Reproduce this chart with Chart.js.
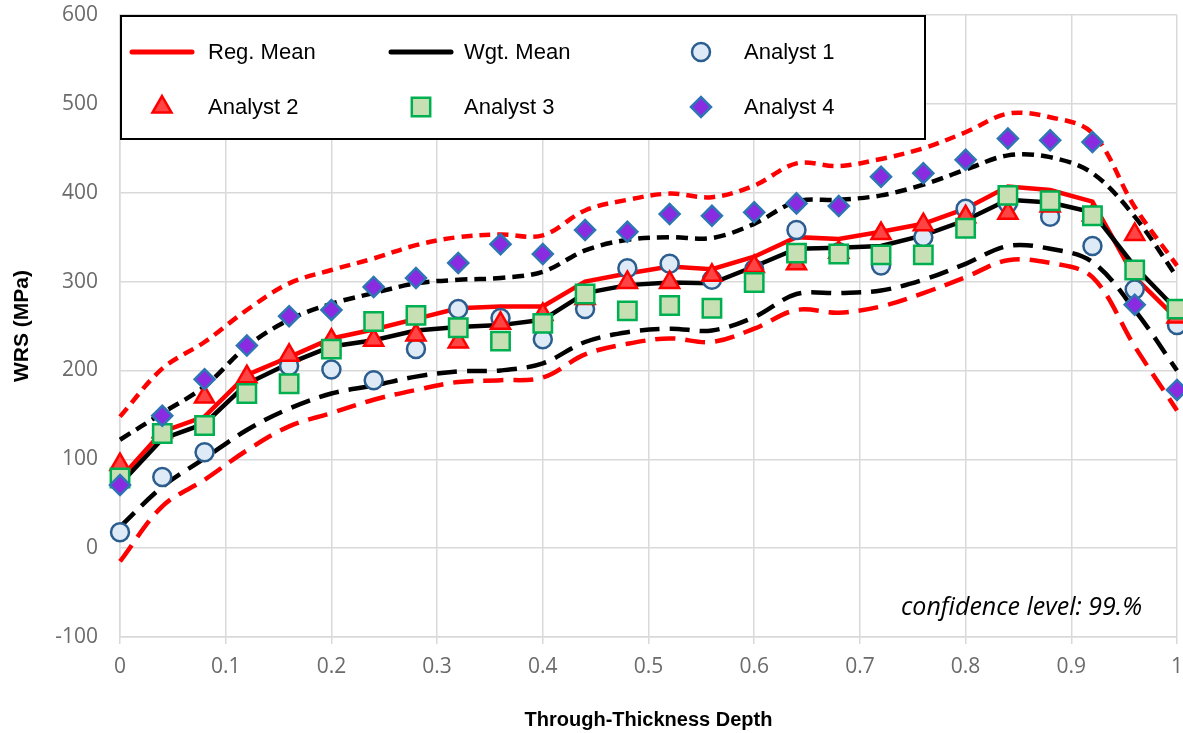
<!DOCTYPE html>
<html>
<head>
<meta charset="utf-8">
<title>WRS vs through-thickness depth</title>
<script src="https://cdn.jsdelivr.net/npm/chart.js@4.4.1/dist/chart.umd.min.js"></script>
<style>
  html, body { margin: 0; padding: 0; background: #fff; }
</style>
</head>
<body>
<canvas id="wrsChart" width="1183" height="733"></canvas>
<script>
// normalised depth positions
const depth = [0, 0.04, 0.08, 0.12, 0.16, 0.2, 0.24, 0.28, 0.32, 0.36, 0.4, 0.44, 0.48,
  0.52, 0.56, 0.6, 0.64, 0.68, 0.72, 0.76, 0.8, 0.84, 0.88, 0.92, 0.96, 1];

const xTicks = [0, 0.1, 0.2, 0.3, 0.4, 0.5, 0.6, 0.7, 0.8, 0.9, 1];
const yTicks = [-100, 0, 100, 200, 300, 400, 500, 600];

// means
const regMean = [78, 131, 148, 195, 215, 236, 246, 258, 270, 272, 272, 300, 309,
  317, 314, 328, 350, 348, 356, 365, 382, 407, 403, 390, 305, 258];
const wgtMean = [72, 123, 140, 185, 208, 227, 234, 245, 249, 251, 257, 287, 296,
  299, 298, 317, 337, 338, 340, 352, 369, 392, 389, 378, 317, 268];

// confidence bands (99%)
const regUpper = [148, 202, 232, 268, 298, 313, 326, 341, 350, 353, 352, 380, 392,
  399, 395, 408, 433, 430, 438, 450, 468, 489, 485, 467, 384, 318];
const regLower = [-15, 47, 77, 110, 137, 152, 167, 178, 187, 189, 192, 218, 230,
  236, 232, 247, 268, 265, 272, 287, 305, 324, 321, 305, 227, 155];
const wgtUpper = [122, 152, 182, 227, 257, 275, 287, 298, 302, 304, 311, 335, 347,
  350, 349, 365, 390, 392, 397, 409, 426, 442, 440, 422, 373, 305];
const wgtLower = [24, 69, 101, 133, 157, 174, 183, 193, 199, 200, 208, 232, 243,
  247, 245, 260, 286, 287, 290, 302, 320, 340, 337, 322, 268, 200];

// individual analysts
const analyst1 = [18, 80, 108, 178, 205, 201, 189, 224, 269, 259, 235, 269, 315,
  320, 302, 314, 358, 333, 318, 350, 382, 388, 373, 340, 291, 251];
const analyst2 = [94, 131, 170, 193, 217, 234, 234, 240, 232, 253, 263, 281, 299,
  299, 307, 317, 320, 333, 354, 364, 373, 377, 385, 375, 353, 260];
const analyst3 = [79, 129, 138, 174, 185, 224, 255, 262, 248, 233, 253, 286, 267,
  273, 270, 299, 332, 331, 330, 330, 360, 397, 391, 374, 313, 269];
const analyst4 = [71, 149, 190, 228, 261, 268, 294, 304, 321, 342, 331, 358, 356,
  376, 374, 378, 388, 385, 418, 422, 437, 461, 459, 457, 274, 178];

function pts(vals) {
  return vals.map((v, i) => ({ x: depth[i], y: v }));
}

function lineSet(label, vals, color, dash, smooth, order) {
  return {
    label: label,
    data: pts(vals),
    borderColor: color,
    backgroundColor: color,
    borderWidth: 4.5,
    borderDash: dash,
    tension: smooth ? 0.35 : 0,
    pointRadius: 0,
    fill: false,
    clip: false,
    order: order,
    inLegend: !dash.length
  };
}

function markerSet(label, vals, style, radius, fill, edge, order) {
  return {
    label: label,
    data: pts(vals),
    showLine: false,
    pointStyle: style,
    pointRadius: radius,
    pointBackgroundColor: fill,
    pointBorderColor: edge,
    pointBorderWidth: 2.5,
    backgroundColor: fill,
    borderColor: edge,
    clip: false,
    order: order,
    inLegend: true
  };
}

const datasets = [
  lineSet("Reg. Mean", regMean, "#ff0000", [], false, 6),
  lineSet("Wgt. Mean", wgtMean, "#000000", [], false, 5),
  markerSet("Analyst 1", analyst1, "circle", 9, "#deebf7", "#2b5d8e", 4),
  markerSet("Analyst 2", analyst2, "triangle", 11, "#ff4444", "#ff0000", 3),
  markerSet("Analyst 3", analyst3, "rect", 13, "#c6e0b4", "#00b050", 2),
  markerSet("Analyst 4", analyst4, "rectRot", 10, "#8a2be2", "#2e75b6", 1),
  lineSet("Reg. upper", regUpper, "#ff0000", [11, 7], true, 8),
  lineSet("Reg. lower", regLower, "#ff0000", [20, 10], true, 8),
  lineSet("Wgt. upper", wgtUpper, "#000000", [12, 7], true, 7),
  lineSet("Wgt. lower", wgtLower, "#000000", [20, 10], true, 7)
];

// boxed legend inside the plot, 3 columns x 2 rows
const boxLegend = {
  id: "boxLegend",
  afterDraw(chart) {
    const ctx = chart.ctx;
    const items = chart.data.datasets.filter(d => d.inLegend);
    const colCenter = [162, 421, 701];
    const colText = [208, 464, 744];
    const rowY = [52, 107];
    ctx.save();
    ctx.fillStyle = "#fff";
    ctx.fillRect(121, 16, 804, 123);
    ctx.lineWidth = 2;
    ctx.strokeStyle = "#000";
    ctx.strokeRect(121, 16, 804, 123);
    items.forEach((d, i) => {
      const cx = colCenter[i % 3];
      const cy = rowY[Math.floor(i / 3)];
      if (d.showLine === false) {
        ctx.fillStyle = d.pointBackgroundColor;
        ctx.strokeStyle = d.pointBorderColor;
        ctx.lineWidth = d.pointBorderWidth;
        ctx.setLineDash([]);
        Chart.helpers.drawPoint(ctx, {
          pointStyle: d.pointStyle, radius: d.pointRadius, rotation: 0,
          borderWidth: d.pointBorderWidth
        }, cx, cy);
      } else {
        ctx.strokeStyle = d.borderColor;
        ctx.lineWidth = 5;
        ctx.lineCap = "round";
        ctx.beginPath();
        ctx.moveTo(cx - 30, cy);
        ctx.lineTo(cx + 30, cy);
        ctx.stroke();
      }
      ctx.fillStyle = "#000";
      ctx.font = '22px "Liberation Sans", Arial, sans-serif';
      ctx.textAlign = "left";
      ctx.textBaseline = "middle";
      ctx.fillText(d.label, colText[i % 3], cy + 1);
    });
    // note in the lower right corner
    ctx.font = 'italic 25px "Open Sans", sans-serif';
    ctx.textAlign = "right";
    ctx.textBaseline = "alphabetic";
    ctx.fillStyle = "#000";
    ctx.fillText("confidence level: 99.%", 1142, 615);
    ctx.restore();
  }
};

const gridColor = "#d9d9d9";
const tickFont = { family: '"Open Sans", sans-serif', size: 21 };
const titleFont = { family: '"Liberation Sans", Arial, sans-serif', size: 20, weight: "bold" };

new Chart(document.getElementById("wrsChart"), {
  type: "line",
  data: { datasets: datasets },
  options: {
    responsive: false,
    animation: false,
    devicePixelRatio: 1,
    layout: { autoPadding: false, padding: { top: 15, right: 6, left: 0, bottom: 0 } },
    plugins: { legend: { display: false }, tooltip: { enabled: false } },
    scales: {
      x: {
        type: "linear",
        min: 0,
        max: 1,
        afterBuildTicks: s => { s.ticks = xTicks.map(v => ({ value: v })); },
        afterFit: s => { s.height = 96; s.paddingLeft = 0; s.paddingRight = 0; },
        grid: { color: gridColor, lineWidth: 1.5, drawTicks: true, tickLength: 7 },
        border: { color: gridColor, width: 1.5 },
        ticks: {
          color: "#6b6b6b",
          font: tickFont,
          padding: 10,
          maxRotation: 0,
          callback: v => String(Number(v.toFixed(1)))
        },
        title: { display: true, text: "Through-Thickness Depth", color: "#000", font: titleFont, padding: { bottom: 1 } }
      },
      y: {
        min: -100,
        max: 600,
        afterBuildTicks: s => { s.ticks = yTicks.map(v => ({ value: v })); },
        afterFit: s => { s.width = 120; s.paddingTop = 0; s.paddingBottom = 0; },
        grid: { color: gridColor, lineWidth: 1.5, drawTicks: false },
        border: { color: gridColor, width: 1.5 },
        ticks: { color: "#6b6b6b", font: tickFont, padding: 22 },
        title: { display: true, text: "WRS (MPa)", color: "#000", font: { ...titleFont, size: 21 }, padding: { top: 10 } }
      }
    }
  },
  plugins: [boxLegend]
});
</script>
</body>
</html>
